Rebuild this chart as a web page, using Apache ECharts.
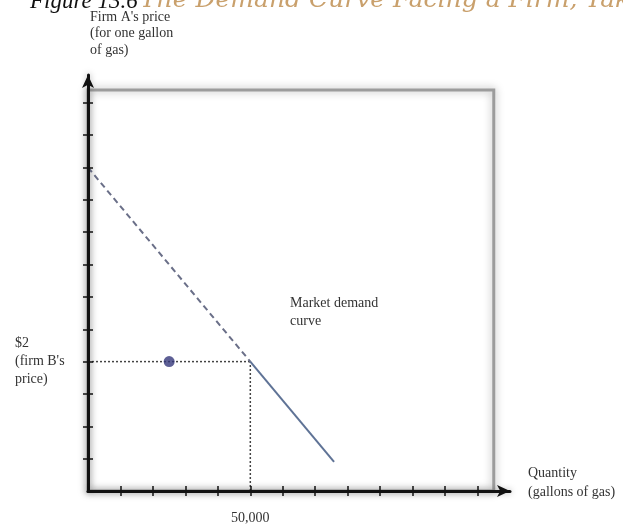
<!DOCTYPE html>
<html><head><meta charset="utf-8">
<script src="https://cdn.jsdelivr.net/npm/echarts@6/dist/echarts.min.js"></script>
<style>html,body{margin:0;padding:0;background:#fff}#c{width:623px;height:525px}</style>
</head><body><div id="c"></div>
<script>
// ---- data ----
const titleFigure = 'Figure 13.6';
const titleText = 'The Demand Curve Facing a Firm, Taking Into Account Competition';
const yAxisName = "Firm A's price\n(for one gallon\nof gas)";
const xAxisName = 'Quantity\n(gallons of gas)';
const curveName = 'Market demand\ncurve';
const xTicks = [10000,20000,30000,40000,50000,60000,70000,80000,90000,100000,110000,120000];
const yTicks = [0.5,1,1.5,2,2.5,3,3.5,4,4.5,5,5.5,6];
const xLabelValues = [50000];
const xLabelTexts = ['50,000'];
const yLabelValues = [2];
const yLabelTexts = ["$2\n(firm B's\nprice)"];
const demandDashed = [[0,5],[50000,2]];
const demandSolid = [[50000,2],[75800,0.45]];
const priceGuide = [[0,2],[50000,2]];
const quantityGuide = [[50000,0],[50000,2]];
const firmAPoint = [[25000,2]];
const xRange = [0,130000];
const yRange = [0,6.43];
const frameCorner = [125000,6.2];

// ---- chart ----
const FONT = '"Liberation Serif", "DejaVu Serif", serif';
const chart = echarts.init(document.getElementById('c'));
const axisLineStyle = {color:'#111', width:3, shadowColor:'rgba(0,0,0,0.35)', shadowBlur:6};
function xAxisBase(inside){
  return {type:'value', min:xRange[0], max:xRange[1], gridIndex:0, position:'bottom', z:5,
    splitLine:{show:false},
    axisLine:{show:!inside, symbol:['none','arrow'], symbolSize:[9,13], lineStyle:axisLineStyle},
    axisTick:{show:true, inside:inside, length:5, customValues:xTicks, lineStyle:{color:'#111', width:1.5}},
    axisLabel:{show:!inside, customValues:xLabelValues, margin:20, fontFamily:FONT, fontSize:14, color:'#333',
      formatter:function(v){const i=xLabelValues.indexOf(v);return i>=0?xLabelTexts[i]:'';}}
  };
}
function yAxisBase(inside){
  return {type:'value', min:yRange[0], max:yRange[1], gridIndex:0, position:'left', z:5,
    splitLine:{show:false},
    axisLine:{show:!inside, symbol:['none','arrow'], symbolSize:[9,13], lineStyle:axisLineStyle},
    axisTick:{show:true, inside:inside, length:5, customValues:yTicks, lineStyle:{color:'#111', width:1.5}},
    axisLabel:{show:!inside, customValues:yLabelValues, margin:73, align:'left', fontFamily:FONT, fontSize:14, lineHeight:18, color:'#333',
      formatter:function(v){const i=yLabelValues.indexOf(v);return i>=0?yLabelTexts[i]:'';}}
  };
}
chart.setOption({
  animation:false,
  backgroundColor:'#fff',
  grid:{left:88, top:75, right:113, bottom:32, containLabel:false},
  xAxis:[xAxisBase(false), xAxisBase(true)],
  yAxis:[yAxisBase(false), yAxisBase(true)],
  series:[
    {type:'line', data:priceGuide, symbol:'none', z:3, lineStyle:{color:'#444', width:1.5, type:[2,2]}},
    {type:'line', data:quantityGuide, symbol:'none', z:3, lineStyle:{color:'#444', width:1.5, type:[2,2]}},
    {type:'line', data:demandDashed, symbol:'none', z:3, lineStyle:{color:'#6a6f88', width:2, type:[6,4]}},
    {type:'line', data:demandSolid, symbol:'none', z:3, lineStyle:{color:'#5f7396', width:2}},
    {type:'scatter', data:firmAPoint, symbolSize:11, z:4, itemStyle:{color:'#34377a'}}
  ]
});
const p0 = chart.convertToPixel({gridIndex:0}, [0, frameCorner[1]]);
const p1 = chart.convertToPixel({gridIndex:0}, [frameCorner[0], 0]);
chart.setOption({
  graphic:[
    {type:'rect', z:0, shape:{x:p0[0], y:p0[1], width:p1[0]-p0[0], height:p1[1]-p0[1]},
      style:{fill:'none', stroke:'#9c9c9c', lineWidth:3, shadowBlur:8, shadowColor:'rgba(0,0,0,0.35)'}},
    {type:'text', z:10, x:30, y:13, style:{text:titleFigure, font:'italic 23px "Liberation Serif", serif', fill:'#111', verticalAlign:'bottom'}},
    {type:'text', z:10, x:140, y:13, style:{text:titleText, font:'italic 25px "DejaVu Serif", serif', fill:'#c9a06c', verticalAlign:'bottom'}},
    {type:'text', z:10, left:90, top:9, style:{text:yAxisName, font:'14px '+FONT, fill:'#333', lineHeight:16.5}},
    {type:'text', z:10, left:290, top:294, style:{text:curveName, font:'14px '+FONT, fill:'#333', lineHeight:18}},
    {type:'text', z:10, left:528, top:464, style:{text:xAxisName, font:'14px '+FONT, fill:'#333', lineHeight:19}}
  ]
});
</script>
</body></html>
